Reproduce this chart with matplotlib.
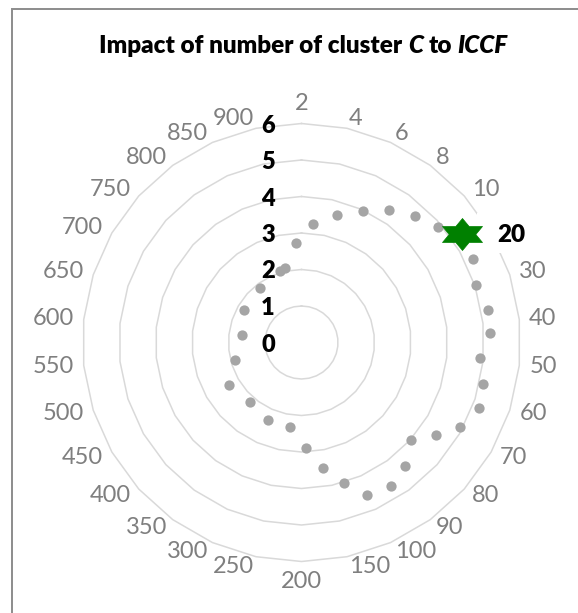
import matplotlib
matplotlib.use("Agg")
import matplotlib.pyplot as plt
import numpy as np
from matplotlib.path import Path
from matplotlib.patches import Rectangle
from matplotlib.transforms import ScaledTranslation

# ---------------- data ----------------
categories = ['2', '4', '6', '8', '10', '20', '30', '40', '50', '60', '70', '80',
              '90', '100', '150', '200', '250', '300', '350', '400', '450', '500',
              '550', '600', '650', '700', '750', '800', '850', '900']
ring_values = [1, 2, 3, 4, 5, 6]
value_labels = ['0', '1', '2', '3', '4', '5', '6']

# grey points (angle in degrees clockwise from top, radial value)
dot_angles = [-3.4, 5.4, 15.4, 25.1, 33.4, 41.9, 49.8, 64.1, 71.9, 80.0, 87.1,
              94.9, 103.0, 110.3, 118.0, 124.4, 131.7, 140.0, 147.9, 156.7,
              163.0, 170.3, 177.8, 188.0, 203.5, 221.0, 239.6, 255.0, 277.0,
              299.5, 322.3, 343.0, 347.8]
dot_values = [2.72, 3.25, 3.62, 3.98, 4.36, 4.66, 4.91, 5.23, 5.04, 5.20, 5.17,
              4.91, 5.11, 5.18, 4.93, 4.48, 4.01, 4.42, 4.63, 4.56,
              4.02, 3.49, 2.90, 2.33, 2.33, 2.17, 2.31, 1.90, 1.64,
              1.82, 1.87, 2.04, 2.09]
star_angle = 55.9
star_value = 5.30
star_label = '20'   # also the category whose axis label it replaces

title_runs = [("Impact of number of cluster", "normal"), ("C", "italic"),
              ("to", "normal"), ("ICCF", "italic")]

# ---------------- figure ----------------
W, H, DPI = 578, 613, 100
FONT = ['Lato', 'DejaVu Sans']
plt.rcParams['font.family'] = FONT

fig = plt.figure(figsize=(W / DPI, H / DPI), dpi=DPI)
fig.patch.set_facecolor('white')

cx, cy, R = 301.5, 342.5, 219.0
ax = fig.add_axes([(cx - R) / W, 1 - (cy + R) / H, 2 * R / W, 2 * R / H],
                  projection='polar')
ax.set_theta_zero_location('N')
ax.set_theta_direction(-1)
ax.set_ylim(0, max(ring_values))
ax.grid(False)
ax.set_xticks([])
ax.set_yticks([])
ax.spines['polar'].set_visible(False)
ax.patch.set_alpha(0)

n = len(categories)
theta = np.arange(n) * 2 * np.pi / n
theta_closed = np.r_[theta, theta[0]]

# polygon gridlines
for rv in ring_values:
    ax.plot(theta_closed, [rv] * (n + 1), color='#D9D9D9', lw=1.1, zorder=1,
            clip_on=False)

# category labels (the one hidden under the star's data label is skipped)
r_lab = 229.0 / R * max(ring_values)
for lab, th in zip(categories, theta):
    if lab == star_label:
        continue
    deg = np.rad2deg(th)
    if np.isclose(deg, 0):
        ha, va = 'center', 'bottom'
    elif np.isclose(deg, 180):
        ha, va = 'center', 'top'
    elif deg < 180:
        ha, va = 'left', 'center'
    else:
        ha, va = 'right', 'center'
    ax.text(th, r_lab, lab, ha=ha, va=va, fontsize=17, color='#7F7F7F',
            zorder=3, clip_on=False)

# white box of the star's data label (hides the outer gridline)
ax.add_patch(Rectangle((477 / W, 1 - 253 / H), 72 / W, 40 / H,
                       transform=fig.transFigure, facecolor='white',
                       edgecolor='none', zorder=4, clip_on=False))

# grey dots
ax.plot(np.deg2rad(dot_angles), dot_values, 'o', ms=7.4, color='#A5A5A5',
        mec='none', zorder=5, clip_on=False)

# green six-pointed star
verts = []
for i in range(6):
    a_out = np.deg2rad(90 - 60 * i)
    a_in = np.deg2rad(60 - 60 * i)
    verts.append((1.443 * np.cos(a_out), np.sin(a_out)))
    verts.append((1.443 * np.cos(a_in) / np.sqrt(3), np.sin(a_in) / np.sqrt(3)))
verts.append(verts[0])
codes = [Path.MOVETO] + [Path.LINETO] * 11 + [Path.CLOSEPOLY]
star = Path(verts, codes)
ax.plot([np.deg2rad(star_angle)], [star_value], marker=star, ms=28.8,
        color='#008000', mec='#008000', mew=0.5, ls='none', zorder=6,
        clip_on=False)
ax.annotate(star_label, (np.deg2rad(star_angle), star_value),
            xytext=(35.6 * 0.72, -1 * 0.72), textcoords='offset points',
            ha='left', va='center', fontsize=17.5, fontweight='heavy',
            color='black', zorder=7, annotation_clip=False)

# value axis labels
off = ScaledTranslation(-33.5 / DPI, -2 / DPI, fig.dpi_scale_trans)
for i, lab in enumerate(value_labels):
    ax.text(0, i, lab, transform=ax.transData + off, ha='center', va='center',
            fontsize=17, fontweight='heavy', color='black', zorder=7,
            clip_on=False)

# title made of runs (bold, some italic)
renderer = fig.canvas.get_renderer()
tfs = 17.5
tw = 'heavy'
probe1 = fig.text(0, 0, "a a", fontsize=tfs, fontweight=tw)
probe2 = fig.text(0, 0, "aa", fontsize=tfs, fontweight=tw)
space = (probe1.get_window_extent(renderer).width -
         probe2.get_window_extent(renderer).width)
probe1.remove()
probe2.remove()
objs = []
for s, st in title_runs:
    t = fig.text(0, 1 - 53 / H, s, fontsize=tfs, fontweight=tw, style=st,
                 ha='left', va='baseline', color='black')
    objs.append(t)
widths = [t.get_window_extent(renderer).width for t in objs]
total = sum(widths) + space * (len(objs) - 1)
x = 303.5 - total / 2
for t, w in zip(objs, widths):
    t.set_x(x / W)
    x += w + space

# chart border (left and top edges visible, box extends past the image)
fig.add_artist(Rectangle((12 / W, -0.1), 1.2, 1 - 9 / H + 0.1,
                         transform=fig.transFigure, facecolor='none',
                         edgecolor='#8C8C8C', lw=1.4, clip_on=False))

fig.savefig('out.png', dpi=DPI, facecolor='white')
